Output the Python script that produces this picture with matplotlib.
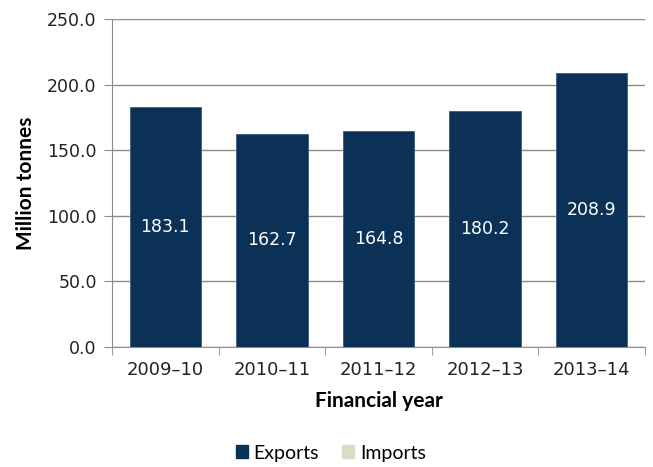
import matplotlib
matplotlib.use("Agg")
import matplotlib.pyplot as plt
from matplotlib.patches import Patch

categories = ["2009\u201310", "2010\u201311", "2011\u201312", "2012\u201313", "2013\u201314"]
exports = [183.1, 162.7, 164.8, 180.2, 208.9]
imports = [0, 0, 0, 0, 0]
y_ticks = [0, 50, 100, 150, 200, 250]

navy = "#0b3157"
beige = "#dcdcc4"
grid_c = "#8c8c8c"
txt_c = "#222222"

plt.rcParams['font.family'] = ['DejaVu Sans']

fig = plt.figure(figsize=(6.53, 4.67), dpi=100)
ax = fig.add_axes([112/653, 1-347/467, (645-112)/653, (347-19)/467])

x = list(range(len(categories)))
ax.bar(x, exports, width=0.67, color=navy, edgecolor="#3a5a7c", linewidth=0.6, zorder=3)
for xi, v in zip(x, exports):
    ax.text(xi, v/2, f"{v:.1f}", ha="center", va="center", color="white", fontsize=12.5, zorder=4)

ax.set_xlim(-0.5, len(categories)-0.5)
ax.set_ylim(0, 250)
ax.set_yticks(y_ticks)
ax.set_yticklabels([f"{t:.1f}" for t in y_ticks], fontsize=12.5, color=txt_c)
ax.set_xticks(x)
ax.set_xticklabels(categories, fontsize=13, color=txt_c)
ax.tick_params(axis='x', length=0, pad=10)
ax.tick_params(axis='y', length=6, color=grid_c, pad=5)
ax.set_xticks([i - 0.5 for i in range(len(categories)+1)], minor=True)
ax.tick_params(axis='x', which='minor', length=6, color=grid_c)

ax.yaxis.grid(True, color=grid_c, linewidth=1.0, zorder=0)
ax.set_axisbelow(True)
for s in ["top", "right"]:
    ax.spines[s].set_visible(False)
ax.spines["left"].set_color(grid_c)
ax.spines["bottom"].set_color(grid_c)

ax.set_ylabel("Million tonnes", fontsize=15, fontweight="bold", family="Lato", labelpad=8)
ax.set_xlabel("Financial year", fontsize=15, fontweight="bold", family="Lato", labelpad=9)

handles = [Patch(color=navy, label="Exports"), Patch(color=beige, label="Imports")]
fig.legend(handles=handles, loc="center", bbox_to_anchor=(331/653, 1-453/467), ncol=2,
           frameon=False, prop={"family": "Lato", "size": 14}, handlelength=0.6, handleheight=0.6,
           handletextpad=0.3, columnspacing=1.2)

fig.savefig("out.png", dpi=100)
